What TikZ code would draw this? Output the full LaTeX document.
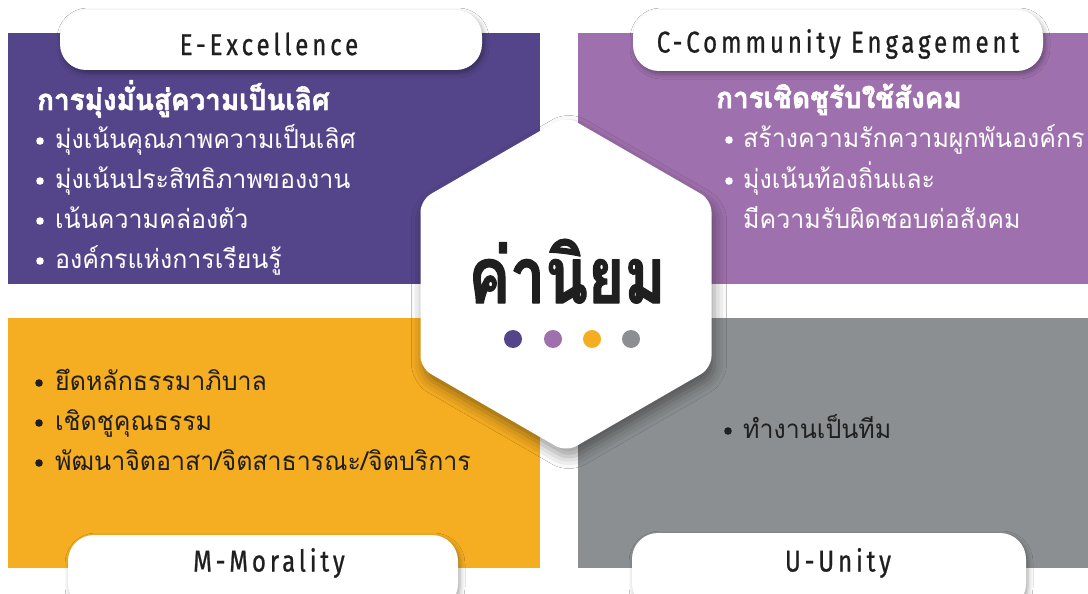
\documentclass[tikz,border=0pt]{standalone}
\usepackage{fontspec}
\usepackage{tikz}
\usetikzlibrary{shadows.blur}
\setmainfont[Script=Thai,FakeStretch=0.96,BoldFeatures={FakeBold=2}]{Loma}
\newfontfamily\titlefont[Script=Thai,FakeStretch=0.8,BoldFeatures={FakeBold=1.5}]{Loma}
\newfontfamily\tabfont[FakeStretch=0.8,LetterSpace=13,FakeBold=0.8]{Fira Sans}
\definecolor{uuttcc}{rgb}{0.33,0.27,0.54}
\definecolor{ccaadd}{rgb}{0.62,0.44,0.68}
\definecolor{ffaaqq}{rgb}{0.96,0.68,0.13}
\definecolor{ccccdd}{rgb}{0.55,0.56,0.57}
\definecolor{qqqqww}{rgb}{0.12,0.12,0.12}

\begin{document}
\begin{tikzpicture}[line cap=round,line join=round,x=1pt,y=-1pt,
  tabbox/.style={fill=white,rounded corners=26pt,blur shadow={shadow xshift=2pt,shadow yshift=-3pt,shadow blur radius=5pt,shadow opacity=35}},
  tabtext/.style={font=\tabfont\fontsize{30}{30}\selectfont,color=qqqqww},
  head/.style={anchor=base west,inner sep=0pt,font=\bfseries\fontsize{29}{29}\selectfont,color=white},
  item/.style={anchor=base west,inner sep=0pt,font=\fontsize{26}{26}\selectfont}]

\useasboundingbox (0,0) rectangle (1088,594);
\clip (0,0) rectangle (1088,594);
\fill [color=white] (0,0) rectangle (1088,594);

% four blocks
\fill [color=uuttcc] (8,33) rectangle (540,284);
\fill [color=ccaadd] (578,33) rectangle (1088,284);
\fill [color=ffaaqq] (8,318) rectangle (540,568);
\fill [color=ccccdd] (578,318) rectangle (1088,568);

% hexagon in the middle
\fill [color=white,rounded corners=12pt,blur shadow={shadow xshift=3pt,shadow yshift=-8pt,shadow blur radius=12pt,shadow opacity=40}] (566,116) -- (711.5,200) -- (711.5,368) -- (566,452) -- (420.5,368) -- (420.5,200) -- cycle;
\draw (567,303) node[anchor=base,font=\titlefont\bfseries\fontsize{78}{78}\selectfont,color=qqqqww] (kaniyom) {ค่านิยม};
\fill [color=uuttcc] (513,339) circle (9pt);
\fill [color=ccaadd] (553,339) circle (9pt);
\fill [color=ffaaqq] (592,339) circle (9pt);
\fill [color=ccccdd] (631,339) circle (9pt);

% tabs
\fill [tabbox] (60,10) rectangle (482,70);
\fill [tabbox] (633,10) rectangle (1043,71);
\fill [tabbox] (68,535) rectangle (458,610);
\fill [tabbox] (632,533) rectangle (1026,610);
\draw (269,44) node[tabtext] (excel) {E-Excellence};
\draw (838,44) node[tabtext] (commu) {C-Community Engagement};
\draw (269,563) node[tabtext] (moral) {M-Morality};
\draw (838,563) node[tabtext] (unity) {U-Unity};

% E
\draw (37,110) node[head] (ehead) {การมุ่งมั่นสู่ความเป็นเลิศ};
\draw (55,148) node[item,color=white] (e1) {มุ่งเน้นคุณภาพความเป็นเลิศ};
\draw (55,188) node[item,color=white] (e2) {มุ่งเน้นประสิทธิภาพของงาน};
\draw (55,228) node[item,color=white] (e3) {เน้นความคล่องตัว};
\draw (55,268) node[item,color=white] (e4) {องค์กรแห่งการเรียนรู้};
\fill [color=white] (40,141) circle (3.8pt);
\fill [color=white] (40,181) circle (3.8pt);
\fill [color=white] (40,221) circle (3.8pt);
\fill [color=white] (40,261) circle (3.8pt);

% C
\draw (716,108) node[head] (chead) {การเชิดชูรับใช้สังคม};
\draw (743,147) node[item,color=white] (c1) {สร้างความรักความผูกพันองค์กร};
\draw (743,188) node[item,color=white] (c2) {มุ่งเน้นท้องถิ่นและ};
\draw (743,228) node[item,color=white] (c3) {มีความรับผิดชอบต่อสังคม};
\fill [color=white] (729,140) circle (3.8pt);
\fill [color=white] (729,181) circle (3.8pt);

% M
\draw (55,390) node[item,color=qqqqww] (m1) {ยึดหลักธรรมาภิบาล};
\draw (55,430) node[item,color=qqqqww] (m2) {เชิดชูคุณธรรม};
\draw (55,470) node[item,color=qqqqww] (m3) {พัฒนาจิตอาสา/จิตสาธารณะ/จิตบริการ};
\fill [color=qqqqww] (39,383) circle (3.8pt);
\fill [color=qqqqww] (39,423) circle (3.8pt);
\fill [color=qqqqww] (39,463) circle (3.8pt);

% U
\draw (743,438) node[item,color=qqqqww] (u1) {ทำงานเป็นทีม};
\fill [color=qqqqww] (728,431) circle (3.8pt);

\end{tikzpicture}
\end{document}
